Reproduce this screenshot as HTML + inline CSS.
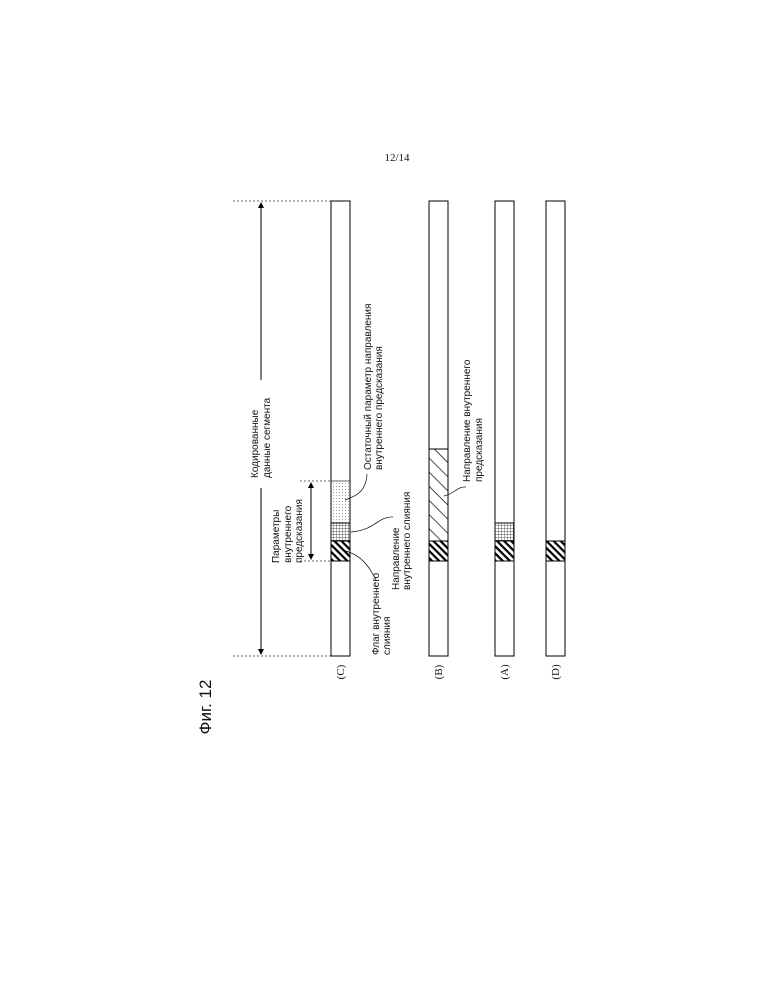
<!DOCTYPE html>
<html><head><meta charset="utf-8"><style>
html,body{margin:0;padding:0;background:#fff;}
svg{display:block;}
.s{font-family:"Liberation Sans",sans-serif;font-size:10px;fill:#111;}
.r{font-family:"Liberation Serif",serif;font-size:11px;fill:#111;}
</style></head><body>
<svg width="772" height="999" viewBox="0 0 772 999" xmlns="http://www.w3.org/2000/svg">
<defs>
<pattern id="hd" width="5" height="5" patternUnits="userSpaceOnUse" patternTransform="rotate(45)">
<rect width="5" height="2.2" fill="#000"/></pattern>
<pattern id="hs" width="10" height="10" patternUnits="userSpaceOnUse" patternTransform="rotate(45)">
<rect width="10" height="0.8" fill="#222"/></pattern>
<pattern id="gr" width="3" height="3" patternUnits="userSpaceOnUse">
<path d="M0 0H3M0 0V3" stroke="#222" stroke-width="0.7"/></pattern>
<pattern id="dt" width="3" height="3" patternUnits="userSpaceOnUse">
<rect width="1" height="1" fill="#999"/></pattern>
<marker id="ah" markerWidth="6" markerHeight="6" refX="5" refY="3" orient="auto"><path d="M0,0 L6,3 L0,6 z" fill="#000"/></marker>
</defs>
<text x="397" y="161" text-anchor="middle" class="r">12/14</text>
<text transform="translate(211,707) rotate(-90)" text-anchor="middle" style="font-family:'Liberation Sans',sans-serif;font-size:17px;fill:#111">Фиг. 12</text>

<line x1="233" y1="201" x2="331" y2="201" stroke="#666" stroke-dasharray="2,2"/>
<line x1="233" y1="656" x2="331" y2="656" stroke="#666" stroke-dasharray="2,2"/>
<line x1="261" y1="380" x2="261" y2="203" stroke="#000" marker-end="url(#ah)"/>
<line x1="261" y1="488" x2="261" y2="654" stroke="#000" marker-end="url(#ah)"/>
<text transform="translate(258,478) rotate(-90)" class="s">Кодированные</text>
<text transform="translate(270,478) rotate(-90)" class="s">данные сегмента</text>

<line x1="300" y1="481" x2="331" y2="481" stroke="#666" stroke-dasharray="2,2"/>
<line x1="300" y1="561" x2="331" y2="561" stroke="#666" stroke-dasharray="2,2"/>
<line x1="311" y1="521" x2="311" y2="483" stroke="#000" marker-end="url(#ah)"/>
<line x1="311" y1="521" x2="311" y2="559" stroke="#000" marker-end="url(#ah)"/>
<text transform="translate(279,563) rotate(-90)" class="s">Параметры</text>
<text transform="translate(291,563) rotate(-90)" class="s">внутреннего</text>
<text transform="translate(302,563) rotate(-90)" class="s">предсказания</text>

<rect x="331" y="201" width="19" height="455" fill="#fff" stroke="#000"/>
<rect x="331" y="481" width="19" height="42" fill="url(#dt)" stroke="#000" stroke-width="0.6"/>
<rect x="331" y="523" width="19" height="18" fill="url(#gr)" stroke="#000"/>
<rect x="331" y="541" width="19" height="20" fill="url(#hd)" stroke="#000"/>
<rect x="429" y="201" width="19" height="455" fill="#fff" stroke="#000"/>
<rect x="429" y="449" width="19" height="92" fill="url(#hs)" stroke="#000"/>
<rect x="429" y="541" width="19" height="20" fill="url(#hd)" stroke="#000"/>
<rect x="495" y="201" width="19" height="455" fill="#fff" stroke="#000"/>
<rect x="495" y="523" width="19" height="18" fill="url(#gr)" stroke="#000"/>
<rect x="495" y="541" width="19" height="20" fill="url(#hd)" stroke="#000"/>
<rect x="546" y="201" width="19" height="455" fill="#fff" stroke="#000"/>
<rect x="546" y="541" width="19" height="20" fill="url(#hd)" stroke="#000"/>

<path d="M367,474 C366,492 356,496 345,500" fill="none" stroke="#000" stroke-width="0.7"/>
<path d="M393,517 C378,516 376,530 351,532" fill="none" stroke="#000" stroke-width="0.7"/>
<path d="M376,580 C369,566 362,556 346,551" fill="none" stroke="#000" stroke-width="0.7"/>
<path d="M466,487 C458,486 454,494 444,496" fill="none" stroke="#000" stroke-width="0.7"/>

<text transform="translate(371,470) rotate(-90)" class="s">Остаточный параметр направления</text>
<text transform="translate(382,470) rotate(-90)" class="s">внутреннего предсказания</text>
<text transform="translate(399,590) rotate(-90)" class="s">Направление</text>
<text transform="translate(410,590) rotate(-90)" class="s">внутреннего слияния</text>
<text transform="translate(379,655) rotate(-90)" class="s">Флаг внутреннего</text>
<text transform="translate(390,655) rotate(-90)" class="s">слияния</text>
<text transform="translate(470,482) rotate(-90)" class="s">Направление внутреннего</text>
<text transform="translate(482,482) rotate(-90)" class="s">предсказания</text>

<text transform="translate(344,672) rotate(-90)" text-anchor="middle" class="r">(C)</text>
<text transform="translate(442,672) rotate(-90)" text-anchor="middle" class="r">(B)</text>
<text transform="translate(508,672) rotate(-90)" text-anchor="middle" class="r">(A)</text>
<text transform="translate(559,672) rotate(-90)" text-anchor="middle" class="r">(D)</text>
</svg>
</body></html>
